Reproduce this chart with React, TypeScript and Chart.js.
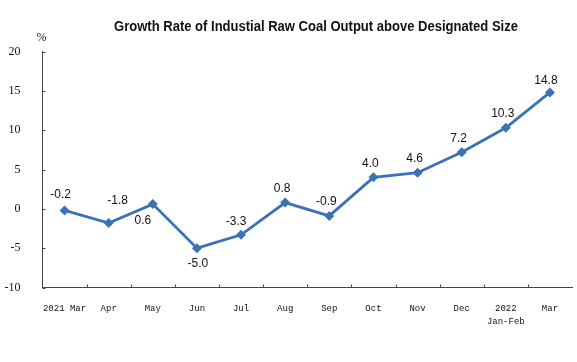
import React, { useEffect, useRef } from "react";
import { Chart, registerables } from "chart.js";

Chart.register(...registerables);

const TITLE = "Growth Rate of Industial Raw Coal Output above Designated Size";
const UNIT = "%";
const categories: (string | string[])[] = [
  "2021 Mar", "Apr", "May", "Jun", "Jul", "Aug", "Sep", "Oct", "Nov", "Dec", ["2022", "Jan-Feb"], "Mar",
];
const growthRate = [-0.2, -1.8, 0.6, -5.0, -3.3, 0.8, -0.9, 4.0, 4.6, 7.2, 10.3, 14.8];
const yTicks = [-10, -5, 0, 5, 10, 15, 20];

const LINE_COLOR = "#3a72b6";
const AXIS_COLOR = "#444444";

// label placement relative to point (dx, dy) in px
const labelOffset = (i: number): [number, number] => {
  if (i === 0) return [-4, -16];
  if (i === 1) return [9, -22];
  if (i === 2) return [-10, 17];
  if (i === 3) return [1, 16];
  if (i === 4) return [-5, -13];
  if (i === 11) return [-4, -12];
  return [-3, -14];
};

const decorPlugin = {
  id: "decor",
  afterDatasetsDraw(chart: any) {
    const { ctx, chartArea, scales } = chart;
    const x = scales.x;
    const y = scales.y;
    ctx.save();
    // tick marks
    ctx.strokeStyle = AXIS_COLOR;
    ctx.lineWidth = 1;
    const n = categories.length;
    const w = (chartArea.right - chartArea.left) / n;
    for (let i = 1; i < n; i++) {
      const px = Math.round(chartArea.left + i * w) + 0.5;
      ctx.beginPath();
      ctx.moveTo(px, chartArea.bottom);
      ctx.lineTo(px, chartArea.bottom - 3);
      ctx.stroke();
    }
    for (const v of yTicks) {
      const py = Math.round(y.getPixelForValue(v)) + 0.5;
      ctx.beginPath();
      ctx.moveTo(chartArea.left, py);
      ctx.lineTo(chartArea.left + 3, py);
      ctx.stroke();
    }
    // data labels
    ctx.fillStyle = "#111111";
    ctx.font = "12px 'Liberation Sans', Arial, sans-serif";
    ctx.textAlign = "center";
    ctx.textBaseline = "middle";
    growthRate.forEach((v, i) => {
      const px = x.getPixelForValue(i);
      const py = y.getPixelForValue(v);
      const [dx, dy] = labelOffset(i);
      ctx.fillText(v.toFixed(1), px + dx, py + dy);
    });
    // unit
    ctx.font = "12px 'Liberation Serif', 'Times New Roman', serif";
    ctx.fillText(UNIT, 41.5, 38);
    // title
    ctx.font = "bold 14px 'Liberation Sans', Arial, sans-serif";
    const tw = ctx.measureText(TITLE).width;
    const target = 404;
    ctx.translate(316, 27.5);
    ctx.scale(target / tw, 1);
    ctx.fillText(TITLE, 0, 0);
    ctx.restore();
  },
};

export default function App() {
  const ref = useRef<HTMLCanvasElement | null>(null);
  useEffect(() => {
    if (!ref.current) return;
    const chart = new Chart(ref.current, {
      type: "line",
      data: {
        labels: categories,
        datasets: [
          {
            data: growthRate,
            borderColor: LINE_COLOR,
            backgroundColor: LINE_COLOR,
            borderWidth: 2.8,
            pointStyle: "rectRot",
            pointRadius: 5,
            pointHoverRadius: 5,
            pointBorderWidth: 0,
            tension: 0,
          },
        ],
      },
      options: {
        responsive: false,
        animation: false,
        layout: { padding: { left: 0, right: 4, top: 51.5, bottom: 0 } },
        plugins: {
          legend: { display: false },
          title: { display: false },
          tooltip: { enabled: false },
        },
        scales: {
          x: {
            offset: true,
            grid: { display: false, offset: true },
            border: { display: true, color: AXIS_COLOR, width: 1 },
            ticks: {
              color: "#111111",
              font: { family: "'Liberation Mono', monospace", size: 9, lineHeight: 13 / 9 },
              padding: 7,
              maxRotation: 0,
              autoSkip: false,
            },
            afterFit: (s: any) => {
              s.height = 74.5;
            },
          },
          y: {
            min: -10,
            max: 20,
            grid: { display: false },
            border: { display: true, color: AXIS_COLOR, width: 1 },
            ticks: {
              stepSize: 5,
              color: "#111111",
              font: { family: "'Liberation Serif', 'Times New Roman', serif", size: 12 },
              padding: 14,
            },
            afterFit: (s: any) => {
              s.width = 42.5;
            },
          },
        },
      },
      plugins: [decorPlugin],
    });
    return () => chart.destroy();
  }, []);
  return (
    <div style={{ position: "fixed", left: 0, top: 0, width: 577, height: 362, background: "#ffffff" }}>
      <canvas ref={ref} width={577} height={362} style={{ display: "block" }} />
    </div>
  );
}
